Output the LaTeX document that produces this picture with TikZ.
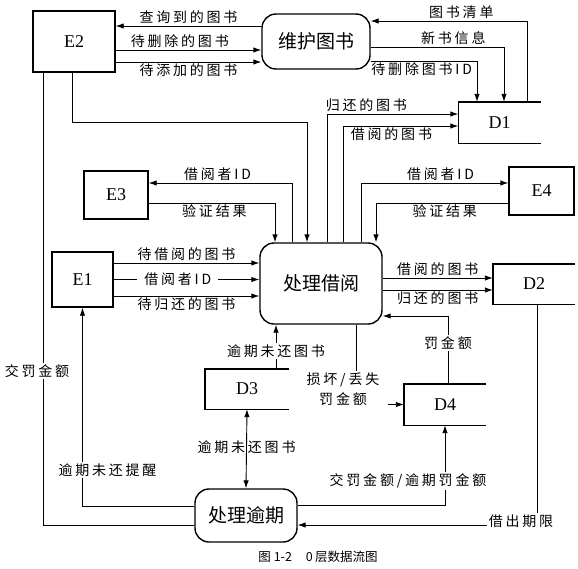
\documentclass[tikz,border=0pt]{standalone}
\usepackage{fontspec}
\setmainfont{Liberation Serif}
\newfontfamily\cjk[LetterSpace=20]{Noto Sans CJK SC}
\newfontfamily\cjkbox{Noto Sans CJK SC}
\usetikzlibrary{arrows.meta}

\begin{document}
\begin{tikzpicture}
  [x=1pt,y=-1pt,>={Latex[length=8pt,width=5.5pt]},
   entity/.style={draw,line width=1.4pt,inner sep=0pt,font=\fontsize{18}{20}\selectfont},
   proc/.style={draw,rounded corners=14pt,line width=1.4pt,inner sep=0pt,font=\cjkbox\fontsize{19}{22}\selectfont},
   store/.style={inner sep=0pt,minimum width=82pt,minimum height=41pt,font=\fontsize{18}{20}\selectfont},
   lbl/.style={font=\cjk\fontsize{14}{20}\selectfont,inner sep=1.5pt},
   cover/.style={lbl,fill=white},
   flow/.style={->,line width=0.9pt}]
  \useasboundingbox (0,0) rectangle (578,568);

  \node[entity,minimum width=82pt,minimum height=61pt] (e2) at (74,41.5)  {E2};
  \node[entity,minimum width=64pt,minimum height=48pt] (e3) at (116,195)  {E3};
  \node[entity,minimum width=65pt,minimum height=48pt] (e4) at (541.5,191) {E4};
  \node[entity,minimum width=61pt,minimum height=55pt] (e1) at (82.5,279.5) {E1};
  \node[proc,minimum width=108pt,minimum height=55pt] (wh) at (316,41.5)  {维护图书};
  \node[proc,minimum width=122pt,minimum height=81pt] (pj) at (321,283.5) {处理借阅};
  \node[proc,minimum width=102pt,minimum height=53pt] (py) at (246,515.5) {处理逾期};
  \node[store] (d1) at (499.5,122.5) {D1};
  \node[store,minimum height=40pt] (d2) at (534,284) {D2};
  \node[store,minimum width=84pt,minimum height=40pt] (d3) at (247,389) {D3};
  \node[store] (d4) at (445,404.5) {D4};

  \foreach \s in {d1,d2,d3,d4}
    \draw[line width=1.4pt] (\s.north east) -- (\s.north west) -- (\s.south west) -- (\s.south east);

  % E2 and maintenance
  \draw[flow] ([yshift=15.5pt]wh.west) -- ([yshift=15.5pt]e2.east) node[midway,above,lbl] {查询到的图书};
  \draw[flow] ([yshift=-8.5pt]e2.east) -- ([yshift=-8.5pt]wh.west) node[pos=0.44,above,lbl] {待删除的图书};
  \draw[flow] ([yshift=-20.5pt]e2.east) -- ([yshift=-20.5pt]wh.west) node[midway,below,lbl] {待添加的图书};
  \draw[flow] ([xshift=27.5pt]d1.north) |- ([yshift=20.5pt]wh.east) node[pos=0.71,above,lbl] {图书清单};
  \draw[flow] ([yshift=-5.5pt]wh.east) -| ([xshift=4.5pt]d1.north) node[pos=0.31,above,lbl] {新书信息};
  \draw[flow] ([yshift=-19.5pt]wh.east) -| ([xshift=-22.5pt]d1.north) node[pos=0.24,below,lbl] {待删除图书ID};
  \draw[flow] ([xshift=-2pt]e2.south) -- ++(0,50) -| ([xshift=-14pt]pj.north);
  \draw[line width=0.9pt] ([xshift=-31pt]e2.south) |- ([yshift=-9.5pt]py.west)
    node[pos=0.33,cover,xshift=-6pt] {交罚金额};

  % borrowing and D1
  \draw[flow] ([xshift=6pt]pj.north) |- ([yshift=8.5pt]d1.west) node[pos=0.65,above,lbl] {归还的图书};
  \draw[flow] ([xshift=22pt]pj.north) |- ([yshift=-3.5pt]d1.west) node[pos=0.71,below,lbl] {借阅的图书};

  % E3 and E4
  \draw[flow] ([xshift=-29pt]pj.north) |- ([yshift=12pt]e3.east) node[pos=0.76,above,lbl] {借阅者ID};
  \draw[flow] ([yshift=-8pt]e3.east) -| ([xshift=-46pt]pj.north) node[pos=0.26,below,lbl] {验证结果};
  \draw[flow] ([xshift=40pt]pj.north) |- ([yshift=8pt]e4.west) node[pos=0.77,above,lbl] {借阅者ID};
  \draw[flow] ([yshift=-12pt]e4.west) -| ([xshift=55pt]pj.north) node[pos=0.24,below,lbl] {验证结果};

  % E1
  \draw[flow] ([yshift=16.5pt]e1.east) -- ([yshift=16.5pt]e1.east -| pj.west) node[midway,above,lbl] {待借阅的图书};
  \draw[flow] (e1.east) -- (e1.east -| pj.west) node[pos=0.44,cover,inner xsep=7pt] {借阅者ID};
  \draw[flow] ([yshift=-16.5pt]e1.east) -- ([yshift=-16.5pt]e1.east -| pj.west) node[midway,below,lbl] {待归还的图书};

  % D2
  \draw[flow] ([yshift=5.5pt]pj.east) -- ([yshift=5.5pt]pj.east -| d2.west) node[midway,above,lbl] {借阅的图书};
  \draw[flow] ([yshift=-6.5pt]pj.east) -- ([yshift=-6.5pt]pj.east -| d2.west) node[midway,below,lbl] {归还的图书};

  % D4
  \draw[flow] ([xshift=3pt]d4.north) |- ([yshift=-32.5pt]pj.east) node[pos=0.3,cover] {罚金额};
  \draw[flow] ([xshift=35pt]pj.south) |- (d4.west);
  \node[cover,align=center,inner xsep=9pt] (dmg) at (343,389) {损坏/丢失\\罚金额};

  % D3
  \draw[flow] ([xshift=29pt]d3.north) -- ([xshift=29pt]d3.north |- pj.south) node[pos=0.4,cover] {逾期未还图书};
  \draw[<->,line width=0.9pt] (d3.south) -- (py.north) node[pos=0.475,lbl] {逾期未还图书};

  % overdue handling
  \draw[flow] ([yshift=9.5pt]py.west) -| (e1.south) node[pos=0.59,cover,xshift=25pt] {逾期未还提醒};
  \draw[flow] ([yshift=10.5pt]py.east) -| (d4.south) node[pos=0.65,cover,xshift=-37pt] {交罚金额/逾期罚金额};
  \draw[flow] ([xshift=3pt]d2.south) |- ([yshift=-9.5pt]py.east) node[pos=0.5,cover,xshift=-16pt,yshift=4pt] {借出期限};

  \node[font=\cjkbox\fontsize{12.5}{14}\selectfont] (cap) at (318,557) {图 1-2\hspace{14pt}0\,层数据流图};
\end{tikzpicture}
\end{document}
